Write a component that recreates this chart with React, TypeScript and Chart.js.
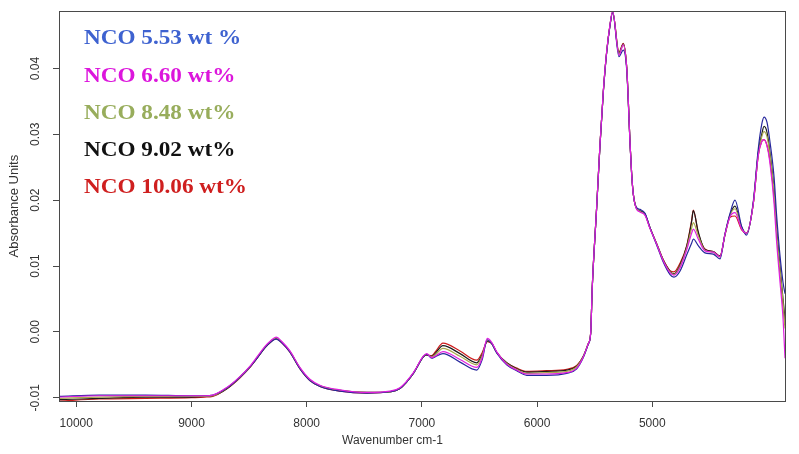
import { useEffect, useRef } from "react";
import { Chart, registerables } from "chart.js";

Chart.register(...registerables);

// Wavenumber positions (cm-1) shared by every spectrum
const wavenumbers = [
  10150, 9800, 9400, 9000, 8885, 8815, 8690, 8580, 8492, 8423, 8362, 8310, 8266, 8214, 8145, 8059,
  7972, 7885, 7711, 7477, 7278, 7191, 7074, 6988, 6958, 6915, 6886, 6817, 6669, 6524, 6478, 6432,
  6394, 6351, 6264, 6177, 6090, 5917, 5743, 5656, 5599, 5556, 5535, 5521, 5483, 5454, 5425, 5396,
  5367, 5344, 5289, 5252, 5222, 5208, 5194, 5179, 5165, 5141, 5107, 5063, 5020, 4962, 4905, 4846,
  4812, 4760, 4701, 4658, 4644, 4601, 4543, 4471, 4412, 4369, 4325, 4282, 4224, 4181, 4123, 4080,
  4050, 4030, 4004, 3978, 3943, 3920, 3891, 3865, 3848,
];

// Absorbance spectra, one per NCO content
const nco553 = [
  -0.0098, -0.0096, -0.0096, -0.0097, -0.0097, -0.0096, -0.0085, -0.0069, -0.0053, -0.0038, -0.0024, -0.0015, -0.0011, -0.0017, -0.0031, -0.0056,
  -0.0074, -0.0083, -0.009, -0.0093, -0.0091, -0.0086, -0.0063, -0.0038, -0.0034, -0.004, -0.0038, -0.0033, -0.0046, -0.0058, -0.0043, -0.0012,
  -0.0018, -0.0032, -0.005, -0.0059, -0.0066, -0.0066, -0.0063, -0.0056, -0.0039, -0.0019, -0.0003, 0.0067, 0.0188, 0.0283, 0.0364, 0.0424,
  0.0465, 0.0485, 0.0418, 0.0428, 0.0398, 0.0348, 0.0288, 0.0239, 0.0209, 0.019, 0.0186, 0.018, 0.0158, 0.0132, 0.0106, 0.0087,
  0.0083, 0.0092, 0.0117, 0.0135, 0.0141, 0.0131, 0.012, 0.0118, 0.0111, 0.0149, 0.018, 0.02, 0.016, 0.0147, 0.0198, 0.0278,
  0.0315, 0.0326, 0.0318, 0.0288, 0.0235, 0.0175, 0.0115, 0.0075, 0.0058,
];
const nco660 = [
  -0.0099, -0.0097, -0.0097, -0.0097, -0.0097, -0.0096, -0.0084, -0.0068, -0.0052, -0.0036, -0.0022, -0.0013, -0.0008, -0.0015, -0.0029, -0.0054,
  -0.0072, -0.0081, -0.0088, -0.0092, -0.009, -0.0085, -0.0062, -0.0037, -0.0033, -0.0039, -0.0037, -0.003, -0.0042, -0.0054, -0.004, -0.001,
  -0.0016, -0.003, -0.0049, -0.0058, -0.0064, -0.0064, -0.0062, -0.0055, -0.0038, -0.0018, -0.0002, 0.0068, 0.0189, 0.0285, 0.0366, 0.0426,
  0.0467, 0.0487, 0.042, 0.0436, 0.0401, 0.035, 0.0289, 0.0239, 0.0209, 0.0188, 0.0182, 0.0177, 0.0157, 0.0133, 0.0108, 0.009,
  0.0086, 0.0097, 0.0125, 0.015, 0.0156, 0.0141, 0.0123, 0.0121, 0.0114, 0.0148, 0.0175, 0.0181, 0.0156, 0.015, 0.0195, 0.0268,
  0.0289, 0.0292, 0.0282, 0.0255, 0.0195, 0.0135, 0.0075, 0.002, -0.004,
];
const nco848 = [
  -0.0101, -0.0099, -0.0098, -0.0098, -0.0098, -0.0097, -0.0085, -0.0069, -0.0053, -0.0037, -0.0023, -0.0014, -0.0009, -0.0016, -0.003, -0.0055,
  -0.0073, -0.0082, -0.0089, -0.0092, -0.0091, -0.0086, -0.0063, -0.0038, -0.0034, -0.0038, -0.0035, -0.0025, -0.0037, -0.005, -0.0037, -0.0013,
  -0.0017, -0.0031, -0.0048, -0.0057, -0.0063, -0.0062, -0.006, -0.0053, -0.0038, -0.0018, -0.0002, 0.0068, 0.0189, 0.0284, 0.0365, 0.0425,
  0.0466, 0.0486, 0.0422, 0.0436, 0.0401, 0.035, 0.0289, 0.0239, 0.0209, 0.0189, 0.0183, 0.0178, 0.0158, 0.0133, 0.0108, 0.0091,
  0.0087, 0.0099, 0.0127, 0.0158, 0.0166, 0.0146, 0.0124, 0.0121, 0.0114, 0.0148, 0.0177, 0.0187, 0.0158, 0.015, 0.0195, 0.027,
  0.0296, 0.0304, 0.0296, 0.0268, 0.0212, 0.015, 0.0093, 0.0045, 0.0005,
];
const nco902 = [
  -0.0103, -0.0101, -0.0099, -0.0099, -0.0098, -0.0097, -0.0086, -0.0069, -0.0053, -0.0038, -0.0024, -0.0015, -0.001, -0.0016, -0.003, -0.0055,
  -0.0073, -0.0082, -0.0089, -0.0092, -0.0091, -0.0086, -0.0063, -0.0038, -0.0035, -0.0037, -0.0033, -0.0021, -0.0033, -0.0047, -0.0035, -0.0014,
  -0.0017, -0.0031, -0.0047, -0.0056, -0.0061, -0.006, -0.0058, -0.0052, -0.0037, -0.0018, -0.0002, 0.0068, 0.0189, 0.0284, 0.0365, 0.0425,
  0.0466, 0.0486, 0.0423, 0.0437, 0.0402, 0.0351, 0.029, 0.024, 0.021, 0.0189, 0.0184, 0.0179, 0.0158, 0.0134, 0.0109, 0.0092,
  0.0088, 0.0101, 0.013, 0.0168, 0.0184, 0.0152, 0.0125, 0.0122, 0.0115, 0.0148, 0.0178, 0.0191, 0.0159, 0.015, 0.0196, 0.0272,
  0.03, 0.0312, 0.0303, 0.0272, 0.0215, 0.0155, 0.0098, 0.005, 0.002,
];
const nco1006 = [
  -0.0105, -0.0102, -0.0101, -0.01, -0.0099, -0.0098, -0.0086, -0.007, -0.0054, -0.0038, -0.0024, -0.0015, -0.001, -0.0017, -0.0031, -0.0056,
  -0.0074, -0.0083, -0.009, -0.0093, -0.0091, -0.0086, -0.0063, -0.0038, -0.0035, -0.0036, -0.0031, -0.0017, -0.0029, -0.0043, -0.0032, -0.0015,
  -0.0018, -0.0031, -0.0047, -0.0055, -0.006, -0.0059, -0.0057, -0.0051, -0.0037, -0.0018, -0.0002, 0.0068, 0.0189, 0.0284, 0.0365, 0.0425,
  0.0466, 0.0486, 0.0425, 0.0438, 0.0402, 0.0351, 0.029, 0.024, 0.021, 0.0189, 0.0183, 0.0178, 0.0158, 0.0134, 0.011, 0.0093,
  0.0091, 0.0104, 0.0131, 0.017, 0.0185, 0.015, 0.0126, 0.0122, 0.0115, 0.0147, 0.0174, 0.0176, 0.0155, 0.015, 0.0195, 0.0268,
  0.0289, 0.0292, 0.0283, 0.026, 0.0205, 0.0148, 0.009, 0.004, 0.001,
];

const seriesValues = [nco553, nco660, nco848, nco902, nco1006];
const seriesLabels = ["NCO 5.53 wt %", "NCO 6.60 wt%", "NCO 8.48 wt%", "NCO 9.02 wt%", "NCO 10.06 wt%"];
const lineColors = ["#26269c", "#e01ee0", "#a9a84c", "#1c1c1c", "#cc1a1a"];
const labelColors = ["#3e62d0", "#dc16dc", "#98ad5c", "#111111", "#cf1f1f"];
// Stacking of the traces: magenta drawn over the navy trace, the rest underneath
const drawOrder = [1, 0, 2, 3, 4];

const xTickValues = [10000, 9000, 8000, 7000, 6000, 5000];
const yTickValues = [-0.01, 0, 0.01, 0.02, 0.03, 0.04];

const sansFont = "'Liberation Sans', Arial, sans-serif";

// Box around the plotting region
const framePlugin = {
  id: "frameBox",
  afterDatasetsDraw(chart: any) {
    const { ctx, chartArea } = chart;
    ctx.save();
    ctx.strokeStyle = "#4a4a4a";
    ctx.lineWidth = 1;
    ctx.strokeRect(
      Math.round(chartArea.left) + 0.5,
      Math.round(chartArea.top) + 0.5,
      Math.round(chartArea.right - chartArea.left),
      Math.round(chartArea.bottom - chartArea.top)
    );
    ctx.restore();
  },
};

// Coloured series names stacked in the upper left of the plot
const seriesNamePlugin = {
  id: "seriesNames",
  afterDraw(chart: any) {
    const { ctx, chartArea } = chart;
    ctx.save();
    ctx.font = "bold 20px 'Liberation Serif', 'Times New Roman', serif";
    ctx.textBaseline = "alphabetic";
    ctx.textAlign = "left";
    chart.data.datasets.forEach((ds: any, i: number) => {
      ctx.save();
      ctx.translate(chartArea.left + 25, chartArea.top + 33 + i * 37.3);
      ctx.scale(1.16, 1);
      ctx.fillStyle = labelColors[i];
      ctx.fillText(ds.label, 0, 0);
      ctx.restore();
    });
    ctx.restore();
  },
};

export default function App() {
  const canvasRef = useRef<HTMLCanvasElement | null>(null);

  useEffect(() => {
    const canvas = canvasRef.current;
    if (!canvas) return;

    const datasets = seriesValues.map((values, i) => ({
      label: seriesLabels[i],
      data: wavenumbers.map((w, j) => ({ x: w, y: values[j] })),
      borderColor: lineColors[i],
      backgroundColor: lineColors[i],
      borderWidth: 1.2,
      pointRadius: 0,
      fill: false,
      order: drawOrder[i],
      cubicInterpolationMode: "monotone" as const,
    }));

    const chart = new Chart(canvas, {
      type: "line",
      data: { datasets },
      plugins: [framePlugin, seriesNamePlugin],
      options: {
        animation: false,
        responsive: false,
        devicePixelRatio: 1,
        layout: { padding: { left: 0, right: 14, top: 9, bottom: 0 } },
        plugins: {
          legend: { display: false },
          tooltip: { enabled: false },
          title: {
            display: true,
            text: "Wavenumber cm-1",
            position: "bottom",
            color: "#333",
            font: { family: sansFont, size: 12, weight: "normal" },
            padding: { top: 0, bottom: 6 },
          },
        },
        scales: {
          x: {
            type: "linear",
            reverse: true,
            min: 3848,
            max: 10150,
            afterBuildTicks: (scale: any) => {
              scale.ticks = xTickValues.map((v) => ({ value: v }));
            },
            afterFit: (scale: any) => {
              scale.height = 32.6;
            },
            grid: {
              display: true,
              drawOnChartArea: false,
              drawTicks: true,
              tickLength: 6,
              color: "#4a4a4a",
            },
            border: { display: false },
            ticks: {
              autoSkip: false,
              maxRotation: 0,
              padding: 9,
              color: "#333",
              font: { family: sansFont, size: 12 },
              callback: (v: any) => String(v),
            },
          },
          y: {
            type: "linear",
            min: -0.0105,
            max: 0.0487,
            afterBuildTicks: (scale: any) => {
              scale.ticks = yTickValues.map((v) => ({ value: v }));
            },
            afterFit: (scale: any) => {
              scale.width = 59;
            },
            grid: {
              display: true,
              drawOnChartArea: false,
              drawTicks: true,
              tickLength: 6,
              color: "#4a4a4a",
            },
            border: { display: false },
            title: {
              display: true,
              text: "Absorbance Units",
              color: "#333",
              font: { family: sansFont, size: 13, weight: "normal" },
              padding: { top: 7, bottom: 0 },
            },
            ticks: {
              autoSkip: false,
              minRotation: 90,
              maxRotation: 90,
              crossAlign: "center",
              padding: 4,
              color: "#333",
              font: { family: sansFont, size: 12 },
              callback: (v: any) => {
                const n = Number(v);
                return (Math.abs(n) < 1e-9 ? 0 : n).toFixed(2);
              },
            },
          },
        },
      },
    });

    return () => chart.destroy();
  }, []);

  return (
    <div style={{ position: "fixed", left: 0, top: 0, width: 799, height: 454, background: "#fff" }}>
      <canvas ref={canvasRef} width={799} height={454} />
    </div>
  );
}
